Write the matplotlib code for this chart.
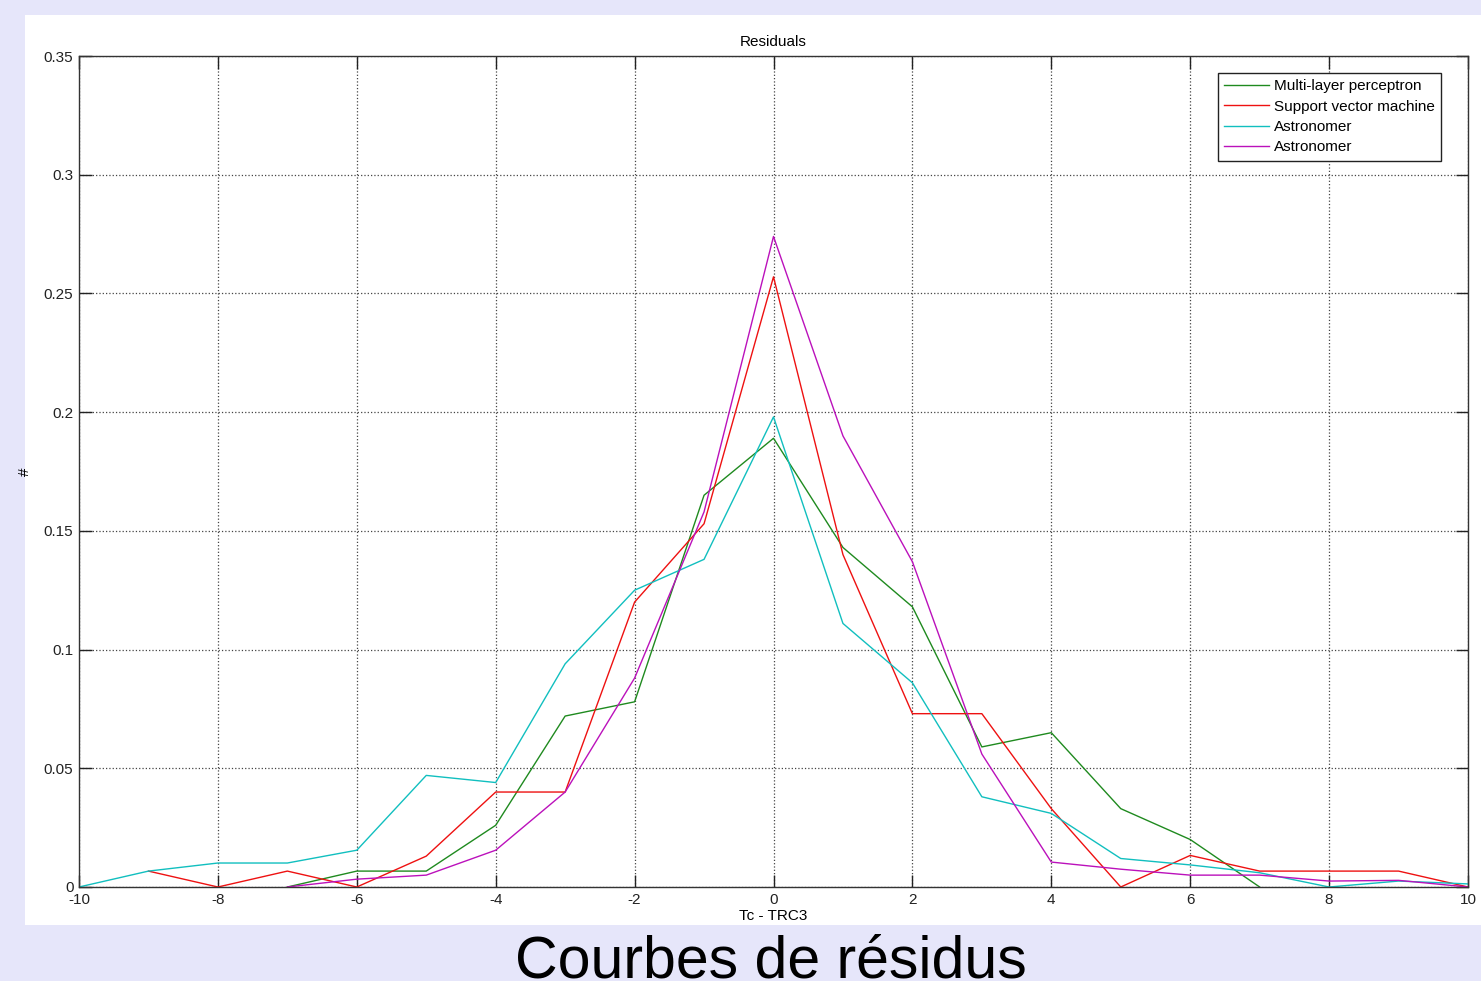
import numpy as np
import matplotlib.pyplot as plt
from matplotlib.patches import Rectangle

plt.rcParams['font.family'] = ['Liberation Sans', 'DejaVu Sans']
plt.rcParams['axes.unicode_minus'] = False

# residual bins
x_full = list(range(-10, 11))
x_svm = list(range(-9, 11))
x_mid = list(range(-7, 8))
x_ast2 = list(range(-7, 11))

mlp = [0, 0.0067, 0.0067, 0.026, 0.072, 0.078, 0.165, 0.189, 0.143, 0.118,
       0.059, 0.065, 0.033, 0.020, 0]
svm = [0.0067, 0, 0.0067, 0, 0.013, 0.040, 0.040, 0.120, 0.153, 0.257,
       0.140, 0.073, 0.073, 0.033, 0, 0.0133, 0.0067, 0.0067, 0.0067, 0]
astro1 = [0, 0.0067, 0.0101, 0.0101, 0.0155, 0.047, 0.044, 0.094, 0.125,
          0.138, 0.198, 0.111, 0.086, 0.038, 0.031, 0.012, 0.0093, 0.006,
          0, 0.0025, 0.0013]
astro2 = [0, 0.0033, 0.005, 0.0155, 0.040, 0.088, 0.158, 0.274, 0.190,
          0.137, 0.056, 0.0105, 0.0075, 0.005, 0.005, 0.0025, 0.0028, 0]

W, H = 1481, 981
fig = plt.figure(figsize=(W / 100, H / 100), dpi=100, facecolor='#E6E6FA')
# white panel behind the axes
fig.patches.append(Rectangle((25 / W, 1 - 925 / H), 1 - 25 / W, (925 - 15) / H,
                             transform=fig.transFigure, facecolor='white',
                             edgecolor='none', zorder=-5))

ax = fig.add_axes([79 / W, 1 - 887 / H, (1468 - 79) / W, (887 - 56) / H])
ax.plot(x_mid, mlp, color='#1f8a1f', lw=1.0, label='Multi-layer perceptron')
ax.plot(x_svm, svm, color='#ee1111', lw=1.0, label='Support vector machine')
ax.plot(x_full, astro1, color='#11bfbf', lw=1.0, label='Astronomer')
ax.plot(x_ast2, astro2, color='#bb11bb', lw=1.0, label='Astronomer')

ax.set_xlim(-10, 10)
ax.set_ylim(0, 0.35)
ax.set_xticks(range(-10, 11, 2))
ax.set_xticklabels([str(v) for v in range(-10, 11, 2)])
yt = [0, 0.05, 0.1, 0.15, 0.2, 0.25, 0.3, 0.35]
ax.set_yticks(yt)
ax.set_yticklabels(['%g' % v for v in yt])
ax.tick_params(direction='in', top=True, right=True, length=9, width=1,
               labelsize=11, colors='#222222', pad=4)
ax.grid(True, linestyle=':', color='#444444', lw=0.9)
for s in ax.spines.values():
    s.set_color('#333333')
    s.set_linewidth(1.0)

ax.set_title('Residuals', fontsize=11, pad=7)
ax.set_xlabel('Tc - TRC3', fontsize=11, labelpad=2)
ax.set_ylabel('#', fontsize=11)
ax.yaxis.set_label_coords(-0.034, 0.5)

leg = ax.legend(loc='upper right', bbox_to_anchor=(0.9806, 0.9795),
                borderaxespad=0, fancybox=False, framealpha=1, fontsize=11,
                handlelength=2.9, handletextpad=0.35, labelspacing=0.42,
                borderpad=0.4)
leg.get_frame().set_edgecolor('#222222')
leg.get_frame().set_linewidth(1.0)

fig.text(771 / W, 1 - 977 / H, 'Courbes de résidus', fontsize=42.5,
         ha='center', va='baseline')

fig.savefig('out.png', dpi=100, facecolor=fig.get_facecolor())
